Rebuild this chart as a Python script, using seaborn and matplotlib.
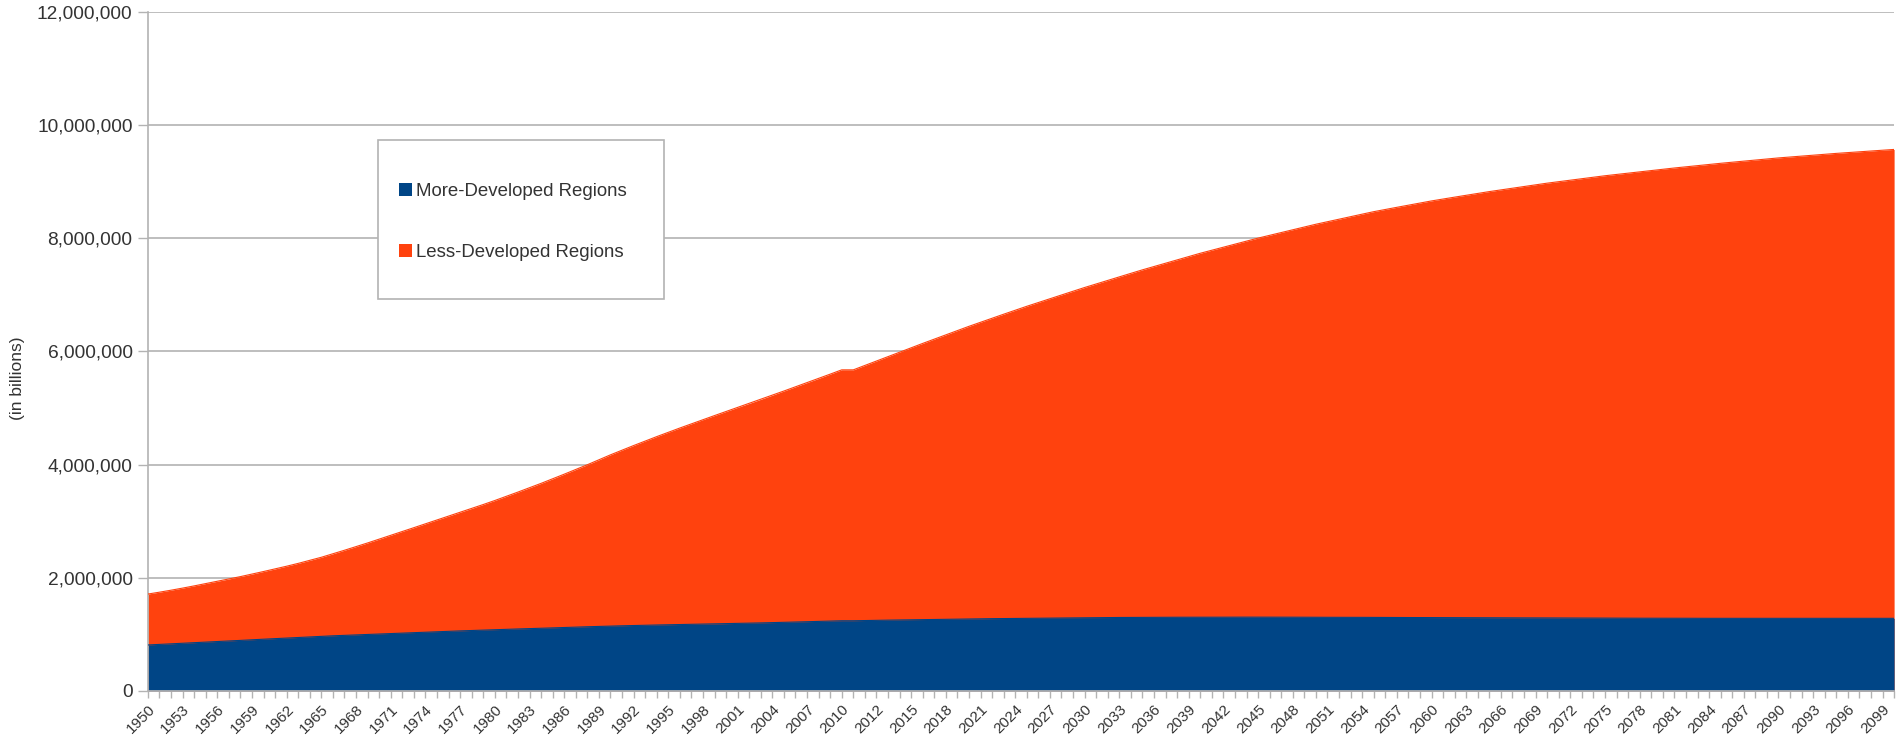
import matplotlib
matplotlib.use("Agg")
import matplotlib.pyplot as plt
from matplotlib.patches import Patch, Rectangle
from matplotlib.ticker import FuncFormatter, MultipleLocator
import pandas as pd
import seaborn as sns

# year categories (2010 appears twice: estimate + projection)
years = [str(y) for y in range(1950, 2011)] + ["2010"] + [str(y) for y in range(2011, 2101)]

# population in thousands (millions x 1000)
less_developed = [
    1713, 1746, 1781, 1818, 1857, 1898, 1938, 1979, 2021, 2065, 2111,
    2157, 2205, 2255, 2308, 2363, 2424, 2487, 2551, 2616, 2683,
    2751, 2819, 2886, 2954, 3023, 3090, 3158, 3226, 3295, 3366,
    3440, 3515, 3591, 3669, 3749, 3831, 3914, 3998, 4085, 4173,
    4256, 4337, 4417, 4495, 4572, 4647, 4721, 4795, 4867, 4939,
    5011, 5082, 5154, 5227, 5301, 5375, 5449, 5523, 5599, 5675,
    5675,
    5753, 5831, 5909, 5988, 6066, 6142, 6218, 6293, 6369, 6444,
    6516, 6587, 6658, 6728, 6798, 6865, 6932, 6998, 7064, 7130,
    7193, 7255, 7318, 7380, 7442, 7501, 7560, 7618, 7677, 7735,
    7789, 7843, 7897, 7950, 8003, 8052, 8102, 8151, 8200, 8248,
    8293, 8337, 8382, 8426, 8470, 8509, 8547, 8585, 8623, 8660,
    8694, 8727, 8760, 8793, 8825, 8855, 8885, 8915, 8945, 8974,
    9000, 9026, 9053, 9079, 9105, 9128, 9151, 9175, 9198, 9221,
    9242, 9263, 9283, 9304, 9325, 9344, 9363, 9382, 9401, 9420,
    9436, 9452, 9468, 9484, 9500, 9514, 9528, 9542, 9556, 9570,
]
more_developed = [
    813, 823, 833, 843, 853, 864, 874, 884, 894, 905, 915,
    925, 935, 945, 956, 966, 975, 983, 991, 1000, 1008,
    1016, 1024, 1032, 1040, 1048, 1055, 1062, 1069, 1076, 1083,
    1089, 1096, 1102, 1109, 1115, 1122, 1128, 1135, 1141, 1148,
    1152, 1157, 1161, 1166, 1170, 1174, 1178, 1182, 1185, 1189,
    1194, 1199, 1203, 1208, 1213, 1219, 1224, 1230, 1235, 1241,
    1241,
    1245, 1248, 1252, 1255, 1259, 1262, 1265, 1267, 1270, 1273,
    1275, 1278, 1280, 1283, 1285, 1287, 1289, 1291, 1293, 1295,
    1296, 1297, 1299, 1300, 1301, 1302, 1302, 1303, 1303, 1304,
    1304, 1304, 1305, 1305, 1305, 1305, 1304, 1304, 1303, 1303,
    1302, 1302, 1301, 1301, 1300, 1299, 1299, 1298, 1298, 1297,
    1296, 1296, 1295, 1295, 1294, 1293, 1293, 1292, 1292, 1291,
    1290, 1290, 1289, 1289, 1288, 1287, 1287, 1286, 1286, 1285,
    1285, 1285, 1284, 1284, 1284, 1284, 1284, 1283, 1283, 1283,
    1283, 1283, 1283, 1283, 1283, 1283, 1283, 1284, 1284, 1284,
]

series_names = ["More-Developed Regions", "Less-Developed Regions"]
colors = {"More-Developed Regions": "#004586", "Less-Developed Regions": "#ff420e"}

df = pd.DataFrame({
    "idx": list(range(len(years))) * 2,
    "value": [v * 1000 for v in more_developed] + [v * 1000 for v in less_developed],
    "series": [series_names[0]] * len(years) + [series_names[1]] * len(years),
})

sns.set_theme(style="white")
plt.rcParams["font.family"] = ["Liberation Sans", "DejaVu Sans"]

fig = plt.figure(figsize=(18.96, 7.45), dpi=100)
ax = fig.add_axes([0.078, 0.0725, 0.921, 0.9115])

# less-developed drawn behind, more-developed in front (not stacked)
for name in ["Less-Developed Regions", "More-Developed Regions"]:
    sub = df[df["series"] == name]
    ax.fill_between(sub["idx"], 0, sub["value"], color=colors[name], linewidth=0, zorder=2)
    sns.lineplot(data=sub, x="idx", y="value", color=colors[name], linewidth=0.8, ax=ax, zorder=3)

ax.set_xlim(0, len(years) - 1)
ax.set_ylim(0, 12_000_000)
ax.yaxis.set_major_locator(MultipleLocator(2_000_000))
ax.yaxis.set_major_formatter(FuncFormatter(lambda v, p: f"{int(v):,}"))
ax.grid(axis="y", color="#b3b3b3", linewidth=1.2, zorder=0)
ax.set_axisbelow(True)

tick_pos = list(range(0, len(years), 3))
ax.set_xticks(tick_pos)
ax.set_xticklabels([years[i] for i in tick_pos], rotation=45, ha="right", va="top",
                   rotation_mode="anchor", fontsize=11, color="#333333")
ax.set_xticks(range(len(years)), minor=True)
ax.tick_params(axis="x", which="both", bottom=True, length=5, color="#b3b3b3", width=1, pad=3)
ax.tick_params(axis="y", left=True, length=7, color="#b3b3b3", width=1, labelsize=13.8,
               labelcolor="#333333", pad=4)

ax.set_xlabel("")
ax.set_ylabel("(in billions)", fontsize=12.5, color="#333333")
ax.yaxis.set_label_coords(-0.0704, 0.461)

for s in ["top", "right"]:
    ax.spines[s].set_visible(False)
ax.spines["left"].set_color("#b3b3b3")
ax.spines["bottom"].set_color("#b3b3b3")
ax.spines["left"].set_linewidth(1.2)

# legend box
W, H = 1896, 745
box = Rectangle((378 / W, 1 - 299 / H), (664 - 378) / W, (299 - 140) / H, transform=fig.transFigure,
                facecolor="white", edgecolor="#b3b3b3", linewidth=1.2, zorder=5)
fig.add_artist(box)

handles = [Patch(facecolor=colors[n], edgecolor="none") for n in series_names]
leg = fig.legend(handles, series_names, loc="center left", bbox_to_anchor=(399 / W, 1 - 222 / H),
                 frameon=False, fontsize=13.4, handlelength=0.7, handleheight=0.7,
                 handletextpad=0.2, labelspacing=2.4, borderpad=0, borderaxespad=0)
leg.set_zorder(6)
for t in leg.get_texts():
    t.set_color("#333333")

fig.savefig("out.png", dpi=100)
